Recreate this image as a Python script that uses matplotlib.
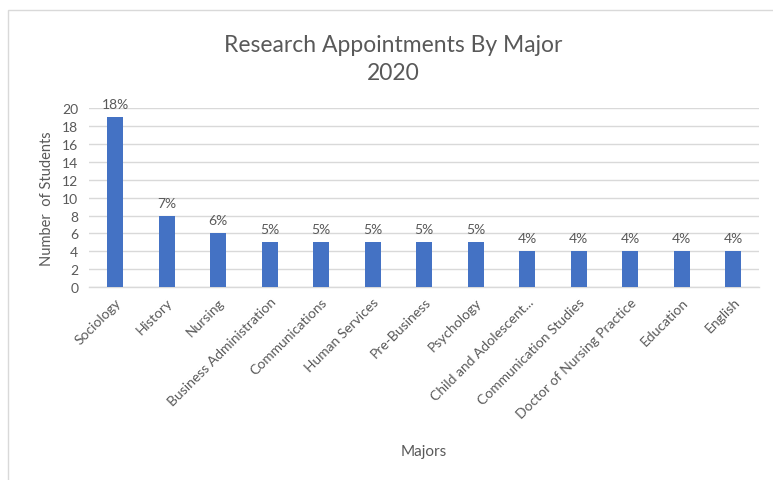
import matplotlib
matplotlib.use("Agg")
import matplotlib.pyplot as plt
from matplotlib.patches import Rectangle

majors = ["Sociology", "History", "Nursing", "Business Administration",
          "Communications", "Human Services", "Pre-Business", "Psychology",
          "Child and Adolescent...", "Communication Studies",
          "Doctor of Nursing Practice", "Education", "English"]
students = [19, 8, 6, 5, 5, 5, 5, 5, 4, 4, 4, 4, 4]
percent_labels = ["18%", "7%", "6%", "5%", "5%", "5%", "5%", "5%",
                  "4%", "4%", "4%", "4%", "4%"]
y_ticks = list(range(0, 21, 2))

plt.rcParams["font.family"] = ["Lato", "DejaVu Sans"]
text_gray = "#595959"
bar_blue = "#4472C4"
grid_gray = "#D9D9D9"

fig = plt.figure(figsize=(7.73, 4.81), dpi=100)
fig.patch.set_facecolor("white")
ax = fig.add_axes([0.1155, 0.401, 0.8665, 0.372])

x = range(len(majors))
ax.bar(x, students, width=0.31, color=bar_blue, zorder=3)
for xi, v, lab in zip(x, students, percent_labels):
    ax.annotate(lab, (xi, v), xytext=(0, 5), textcoords="offset points",
                ha="center", va="bottom", fontsize=10, color=text_gray)

ax.set_xlim(-0.5, len(majors) - 0.5)
ax.set_ylim(0, 20)
ax.set_yticks(y_ticks)
ax.set_xticks(list(x))
ax.set_xticklabels(majors, rotation=45, ha="right", rotation_mode="anchor",
                   fontsize=10, color=text_gray)
ax.tick_params(axis="y", labelsize=10, labelcolor=text_gray, length=0, pad=8)
ax.tick_params(axis="x", length=0, pad=6)
ax.yaxis.grid(True, color=grid_gray, linewidth=1, zorder=0)
for side in ["top", "right", "left"]:
    ax.spines[side].set_visible(False)
ax.spines["bottom"].set_color(grid_gray)
ax.spines["bottom"].set_linewidth(1)

ax.set_ylabel("Number  of Students", fontsize=10.5, color=text_gray, labelpad=6)
fig.text(0.548, 0.045, "Majors", ha="center", va="bottom", fontsize=11,
         color=text_gray)
fig.text(0.509, 0.905, "Research Appointments By Major", ha="center",
         va="center", fontsize=16.5, color=text_gray)
fig.text(0.509, 0.848, "2020", ha="center", va="center", fontsize=16.5,
         color=text_gray)

# light frame along the top and left edges of the chart area
fig.patches.append(Rectangle((0.0103, -0.05), 1.5, 0.05 + 0.977,
                             transform=fig.transFigure, fill=False,
                             edgecolor=grid_gray, linewidth=1))

fig.savefig("out.png", dpi=100)
